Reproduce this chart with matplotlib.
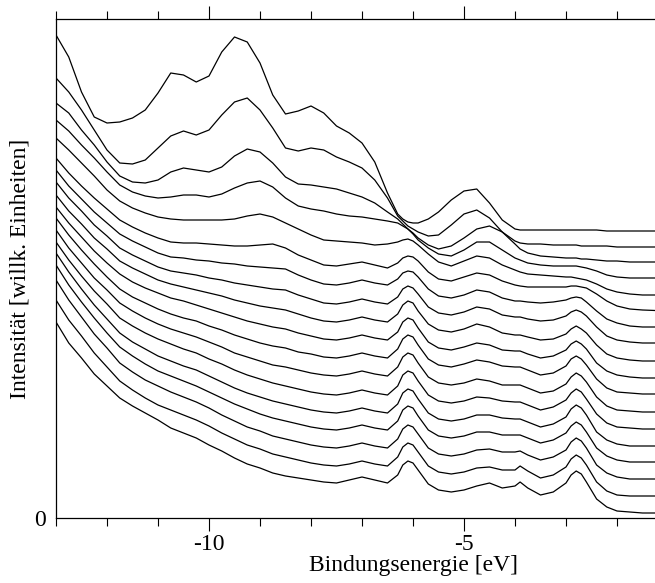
import matplotlib
matplotlib.use('Agg')
import matplotlib.pyplot as plt
from matplotlib.ticker import MultipleLocator

plt.rcParams['font.family'] = ['Liberation Serif', 'DejaVu Serif']
plt.rcParams['axes.unicode_minus'] = False

# binding energy grid (eV)
energy = [-13.0, -12.75, -12.5, -12.25, -12.0, -11.75, -11.5, -11.25, -11.0, -10.75,
          -10.5, -10.25, -10.0, -9.75, -9.5, -9.25, -9.0, -8.75, -8.5, -8.25,
          -8.0, -7.75, -7.5, -7.25, -7.0, -6.75, -6.5, -6.3, -6.2, -6.1, -6.0, -5.9,
          -5.7, -5.5, -5.25, -5.0, -4.75, -4.5, -4.25, -4.0, -3.9, -3.75,
          -3.5, -3.25, -3.0, -2.9, -2.8, -2.7, -2.6, -2.4, -2.2, -2.0, -1.75, -1.5, -1.0]

# intensity of each spectrum (offset already included), top to bottom
spec_01 = [483, 461, 426, 401, 395, 396, 400, 408, 425, 445, 443, 436, 442, 466, 481, 476, 455, 423, 404, 407, 412, 405, 392, 385, 375, 356, 325, 304, 299, 296, 295, 295, 299, 306, 318, 327, 329, 315, 298, 289, 288, 288, 288, 288, 288, 288, 288, 288, 288, 288, 287, 287, 287, 287, 287]
spec_02 = [440, 426, 408, 388, 368, 355, 354, 358, 370, 382, 387, 383, 388, 403, 416, 420, 408, 390, 370, 367, 370, 368, 361, 356, 350, 338, 320, 302, 297, 292, 289, 286, 282, 283, 293, 304, 308, 300, 286, 277, 275, 274, 274, 273, 273, 273, 273, 272, 272, 272, 272, 271, 271, 271, 271]
spec_03 = [415, 405, 388, 373, 356, 342, 336, 335, 338, 346, 350, 348, 346, 351, 362, 369, 366, 355, 341, 334, 333, 331, 329, 325, 321, 315, 306, 299, 294, 289, 285, 280, 273, 269, 272, 280, 289, 292, 286, 274, 269, 265, 262, 261, 260, 260, 260, 259, 259, 258, 257, 257, 256, 256, 256]
spec_04 = [398, 387, 373, 360, 346, 333, 326, 322, 320, 321, 323, 323, 321, 324, 330, 335, 337, 331, 320, 312, 309, 307, 304, 302, 301, 299, 297, 295, 292, 289, 284, 278, 270, 264, 262, 268, 276, 276, 268, 260, 258, 255, 253, 252, 252, 252, 252, 251, 250, 247, 243, 241, 240, 240, 240]
spec_05 = [380, 368, 355, 342, 328, 317, 310, 305, 301, 299, 298, 298, 298, 298, 299, 302, 304, 301, 295, 289, 283, 278, 277, 276, 275, 273, 274, 276, 278, 279, 277, 273, 264, 256, 252, 257, 262, 260, 253, 248, 246, 244, 243, 242, 241, 241, 240, 239, 238, 234, 229, 226, 224, 223, 223]
spec_06 = [360, 345, 332, 320, 309, 298, 291, 285, 280, 276, 275, 275, 274, 273, 272, 272, 273, 274, 270, 263, 258, 253, 252, 254, 256, 253, 250, 255, 260, 262, 261, 257, 246, 239, 237, 241, 245, 243, 237, 233, 232, 231, 231, 231, 231, 232, 232, 231, 230, 224, 217, 212, 209, 208, 207]
spec_07 = [348, 332, 319, 306, 295, 284, 277, 271, 265, 261, 260, 258, 257, 255, 254, 252, 251, 250, 249, 243, 238, 234, 233, 235, 238, 235, 233, 239, 245, 247, 246, 241, 229, 222, 220, 223, 228, 226, 220, 217, 217, 216, 215, 216, 218, 220, 221, 220, 216, 207, 199, 195, 192, 191, 191]
spec_08 = [336, 320, 307, 293, 282, 270, 263, 257, 251, 247, 245, 243, 240, 238, 235, 233, 231, 229, 228, 223, 219, 215, 214, 216, 219, 216, 214, 221, 229, 232, 230, 224, 211, 205, 203, 206, 211, 209, 203, 201, 201, 199, 197, 198, 202, 206, 208, 206, 202, 191, 182, 178, 176, 175, 175]
spec_09 = [323, 307, 294, 280, 269, 257, 250, 244, 238, 234, 231, 228, 225, 222, 218, 215, 212, 210, 208, 204, 200, 197, 196, 198, 201, 198, 196, 204, 213, 217, 215, 207, 194, 188, 186, 189, 194, 191, 185, 183, 183, 181, 178, 179, 184, 189, 192, 189, 185, 173, 164, 160, 158, 157, 157]
spec_10 = [311, 295, 281, 267, 255, 244, 236, 230, 225, 220, 217, 213, 209, 205, 201, 197, 194, 191, 189, 185, 182, 179, 178, 180, 183, 180, 178, 186, 196, 200, 198, 190, 176, 170, 168, 171, 175, 173, 168, 167, 167, 164, 160, 162, 168, 174, 177, 174, 169, 155, 147, 143, 141, 140, 140]
spec_11 = [300, 283, 268, 254, 241, 229, 221, 215, 209, 204, 200, 197, 192, 188, 183, 179, 175, 172, 170, 166, 164, 161, 160, 162, 165, 162, 160, 169, 179, 183, 181, 173, 159, 153, 151, 154, 158, 156, 152, 151, 151, 148, 143, 145, 152, 159, 162, 159, 153, 139, 130, 126, 125, 124, 124]
spec_12 = [288, 270, 255, 240, 228, 215, 207, 200, 194, 189, 185, 181, 176, 171, 165, 161, 157, 153, 151, 148, 145, 143, 142, 144, 147, 144, 142, 151, 161, 165, 163, 155, 141, 135, 133, 135, 139, 137, 133, 133, 133, 130, 125, 127, 134, 141, 145, 142, 136, 121, 112, 108, 107, 106, 106]
spec_13 = [276, 258, 242, 227, 214, 200, 192, 185, 179, 174, 169, 165, 159, 154, 148, 143, 139, 135, 132, 129, 126, 124, 123, 125, 128, 125, 123, 132, 143, 147, 145, 137, 123, 117, 115, 117, 121, 120, 117, 116, 116, 113, 108, 111, 118, 125, 129, 126, 119, 104, 95, 91, 90, 89, 89]
spec_14 = [265, 246, 229, 213, 199, 185, 176, 169, 162, 157, 152, 148, 142, 136, 130, 125, 121, 117, 114, 111, 108, 106, 105, 107, 110, 107, 105, 114, 125, 129, 127, 119, 105, 99, 97, 99, 103, 103, 100, 99, 99, 96, 91, 94, 101, 109, 113, 110, 103, 86, 78, 74, 72, 72, 72]
spec_15 = [253, 233, 216, 200, 185, 171, 162, 154, 147, 142, 137, 132, 126, 120, 114, 109, 104, 100, 97, 94, 91, 89, 88, 90, 93, 90, 88, 97, 108, 112, 110, 102, 88, 82, 80, 82, 86, 86, 83, 83, 83, 80, 75, 78, 85, 92, 96, 93, 86, 70, 62, 58, 56, 56, 56]
spec_16 = [238, 218, 201, 184, 170, 155, 146, 138, 132, 126, 121, 116, 110, 103, 97, 91, 87, 82, 79, 76, 73, 71, 70, 72, 75, 72, 70, 79, 89, 93, 91, 84, 70, 64, 62, 64, 68, 69, 66, 66, 67, 63, 58, 61, 68, 76, 80, 77, 70, 53, 45, 41, 39, 39, 39]
spec_17 = [218, 198, 182, 165, 151, 137, 128, 120, 113, 108, 103, 98, 92, 85, 79, 73, 69, 64, 61, 58, 55, 53, 52, 54, 57, 54, 52, 61, 71, 75, 73, 66, 52, 46, 44, 46, 50, 51, 48, 48, 52, 47, 40, 43, 51, 59, 63, 60, 53, 36, 27, 23, 22, 22, 22]
spec_18 = [196, 175, 160, 144, 132, 120, 112, 105, 98, 90, 85, 80, 73, 67, 60, 54, 50, 45, 42, 40, 38, 36, 35, 38, 41, 38, 35, 43, 53, 57, 55, 48, 34, 28, 26, 28, 32, 35, 30, 32, 36, 30, 23, 26, 35, 43, 47, 44, 36, 19, 11, 7, 6, 5, 5]

xtick_values = [-10, -5]
xtick_labels = ['-10', '-5']
ytick_values = [0]
ytick_labels = ['0']
x_label = 'Bindungsenergie [eV]'
y_label = 'Intensität [willk. Einheiten]'

spectra = [spec_01, spec_02, spec_03, spec_04, spec_05, spec_06, spec_07, spec_08, spec_09,
           spec_10, spec_11, spec_12, spec_13, spec_14, spec_15, spec_16, spec_17, spec_18]

W, H = 655, 583
fig = plt.figure(figsize=(W / 100, H / 100), dpi=100)
ax = fig.add_axes([56 / W, (H - 518) / H, 714 / W, (518 - 19) / H])

for s in spectra:
    ax.plot(energy, s, color='black', lw=0.9, solid_joinstyle='round')

ax.set_xlim(-13, 1)
ax.set_ylim(0, 499)
ax.set_xticks(xtick_values)
ax.set_xticklabels(xtick_labels)
ax.xaxis.set_minor_locator(MultipleLocator(1))
ax.tick_params(axis='x', which='both', direction='out', top=True, bottom=True, width=0.8)
ax.tick_params(axis='x', which='major', length=9.4, pad=2, labelsize=17)
ax.tick_params(axis='x', which='minor', length=5.8)
ax.set_yticks(ytick_values)
ax.set_yticklabels(ytick_labels)
ax.tick_params(axis='y', length=0, pad=7, labelsize=17)
ax.set_xlabel(x_label, fontsize=17, labelpad=0)
ax.set_ylabel(y_label, fontsize=17, labelpad=3)
for sp in ax.spines.values():
    sp.set_linewidth(0.9)

fig.savefig('out.png', dpi=100)
